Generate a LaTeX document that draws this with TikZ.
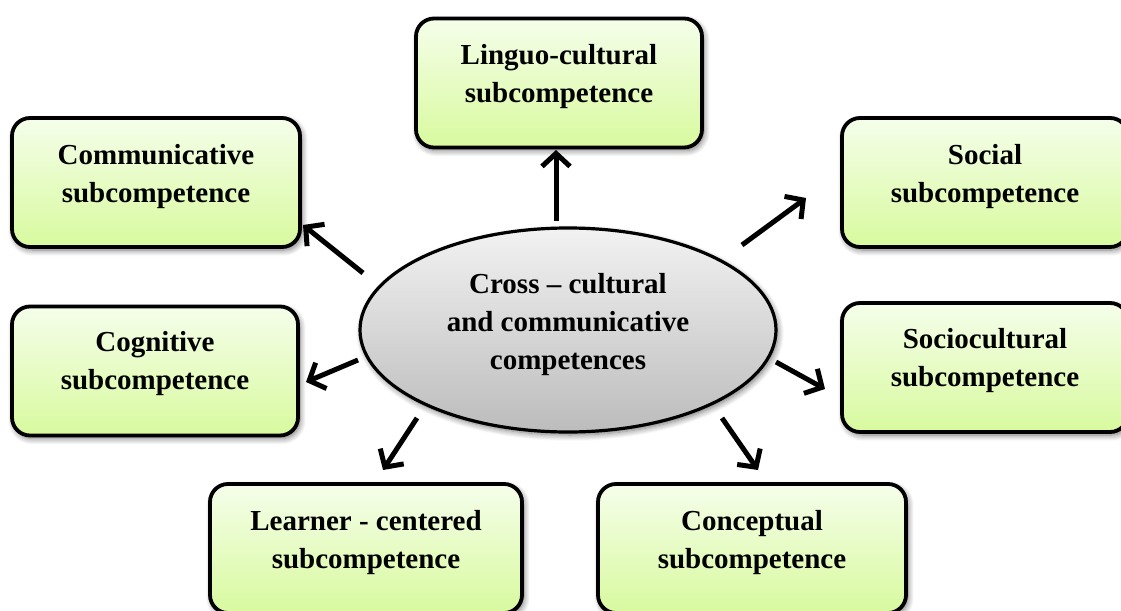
\documentclass[tikz,border=0pt]{standalone}
\usepackage{fontspec}
\setmainfont{Liberation Serif}
\usetikzlibrary{arrows.meta,shadows.blur,shapes.geometric}
\definecolor{boxtop}{HTML}{F5FEEA}
\definecolor{boxbot}{HTML}{D8FA9E}
\definecolor{elltop}{HTML}{F2F2F2}
\definecolor{ellbot}{HTML}{BCBCBC}
\tikzset{
  subbox/.style={draw=black, line width=3.8pt, rounded corners=18pt,
    top color=boxtop, bottom color=boxbot, minimum height=129pt,
    blur shadow={shadow xshift=2pt, shadow yshift=-3pt, shadow blur steps=8, shadow blur radius=6pt, shadow opacity=55}},
  boxtext/.style={font=\fontsize{29}{38}\selectfont\bfseries, align=center, inner sep=0pt},
  arr/.style={line width=5pt, -{Straight Barb[length=13pt,width=28pt,line width=5pt]}},
}
\begin{document}
\begin{tikzpicture}[x=1pt,y=-1pt]
\useasboundingbox (0,0) rectangle (1121,610);
% central ellipse
\node[ellipse, draw=black, line width=3.2pt, top color=elltop, bottom color=ellbot,
  minimum width=416pt, minimum height=204pt, inner sep=0pt,
  blur shadow={shadow xshift=2pt, shadow yshift=-3pt, shadow blur steps=8, shadow blur radius=6pt, shadow opacity=55}]
  (ell) at (568,330) {};
\node[boxtext] (ell-t) at (568,325) {Cross -- cultural\\and communicative\\competences};
% boxes
\node[subbox, minimum width=286pt] (lin) at (559,83) {};
\node[boxtext] (lin-t) at (559,77) {Linguo-cultural\\subcompetence};
\node[subbox, minimum width=288pt] (com) at (156,182.5) {};
\node[boxtext] (com-t) at (156,177) {Communicative\\subcompetence};
\node[subbox, minimum width=286pt] (soc) at (985,182.5) {};
\node[boxtext] (soc-t) at (985,177) {Social\\subcompetence};
\node[subbox, minimum width=286pt] (cog) at (155,371) {};
\node[boxtext] (cog-t) at (155,364) {Cognitive\\subcompetence};
\node[subbox, minimum width=286pt] (scc) at (985,367.5) {};
\node[boxtext] (scc-t) at (985,361) {Sociocultural\\subcompetence};
\node[subbox, minimum width=312pt] (lrn) at (366,548.5) {};
\node[boxtext] (lrn-t) at (366,542.5) {Learner - centered\\subcompetence};
\node[subbox, minimum width=308pt] (con) at (752,548.5) {};
\node[boxtext] (con-t) at (752,542.5) {Conceptual\\subcompetence};
% arrow end points
\coordinate (a1s) at (556,221); \coordinate (a1e) at (556,150);
\coordinate (a2s) at (363,273); \coordinate (a2e) at (303,225);
\coordinate (a3s) at (742,245); \coordinate (a3e) at (806,198);
\coordinate (a4s) at (358,360); \coordinate (a4e) at (306,382);
\coordinate (a5s) at (776,362); \coordinate (a5e) at (825,389);
\coordinate (a6s) at (417,418); \coordinate (a6e) at (383,470);
\coordinate (a7s) at (722,418); \coordinate (a7e) at (758,470);
\draw[arr] (a1s) -- (a1e);
\draw[arr] (a2s) -- (a2e);
\draw[arr] (a3s) -- (a3e);
\draw[arr] (a4s) -- (a4e);
\draw[arr] (a5s) -- (a5e);
\draw[arr] (a6s) -- (a6e);
\draw[arr] (a7s) -- (a7e);
\end{tikzpicture}
\end{document}
